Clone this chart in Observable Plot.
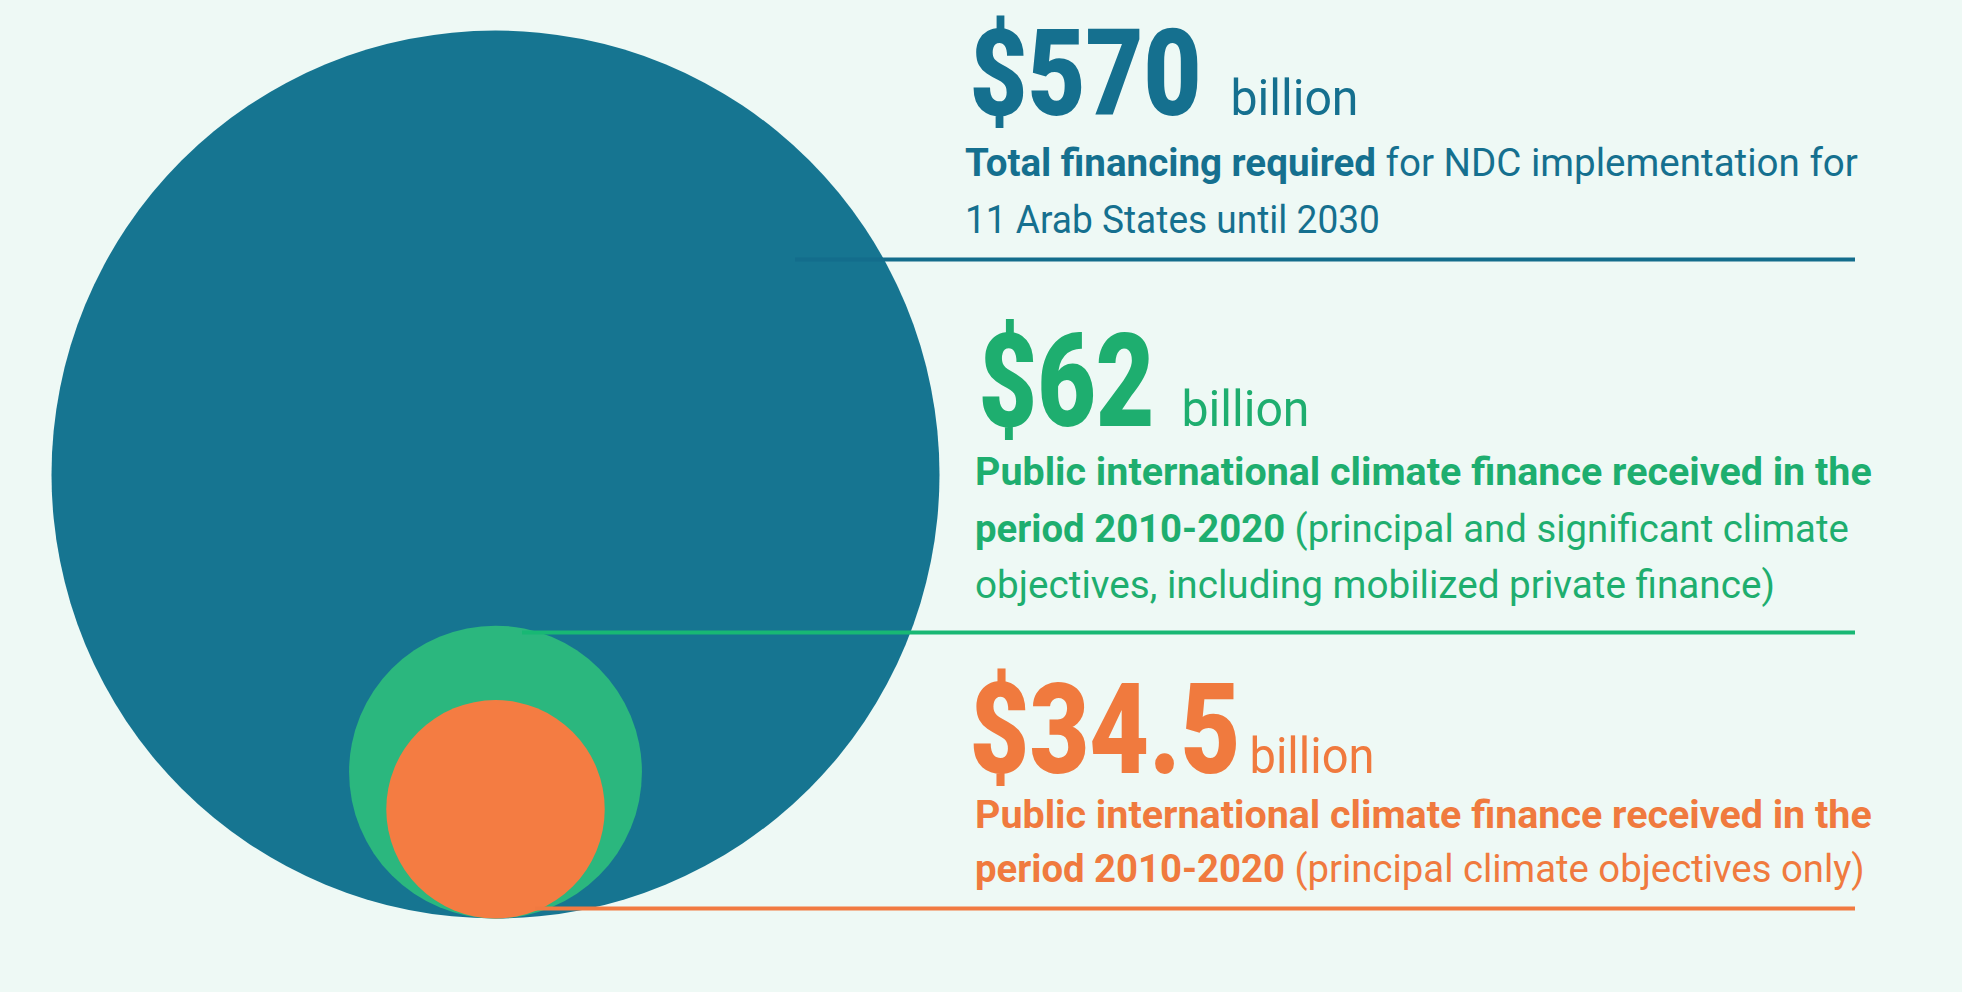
<!DOCTYPE html>
<html>
<head>
<meta charset="utf-8">
<script src="https://cdn.jsdelivr.net/npm/d3@7"></script>
<script src="https://cdn.jsdelivr.net/npm/@observablehq/plot@0.6"></script>
<style>
  html, body { margin: 0; padding: 0; background: #eef9f5; }
  #chart { position: relative; width: 1962px; height: 992px; }
</style>
</head>
<body>
<div id="chart"></div>
<script>
// ---- data ----
const categories = ["Total financing required", "Received (principal and significant)", "Received (principal only)"];
const values = [570, 62, 34.5];
const valueLabels = ["$570", "$62", "$34.5"];
const unitLabels = ["billion", "billion", "billion"];
const descriptions = [
  [
    [{bold: true, text: "Total financing required"}, {bold: false, text: " for NDC implementation for"}],
    [{bold: false, text: "11 Arab States until 2030"}]
  ],
  [
    [{bold: true, text: "Public international climate finance received in the"}],
    [{bold: true, text: "period 2010-2020"}, {bold: false, text: " (principal and significant climate"}],
    [{bold: false, text: "objectives, including mobilized private finance)"}]
  ],
  [
    [{bold: true, text: "Public international climate finance received in the"}],
    [{bold: true, text: "period 2010-2020"}, {bold: false, text: " (principal climate objectives only)"}]
  ]
];

// ---- styles / layout ----
const fills = ["#167591", "#2bb77e", "#f47c42"];
const ruleColors = ["#136d8c", "#18b874", "#f17a41"];
const textColors = ["#15708f", "#1eae6f", "#f07a3e"];
const L = {
  anchorX: 495, baseY: 918, rMax: 444,
  ruleY: [259, 632, 908], ruleX1: [795, 522, 535], ruleX2: 1855,
  valueX: [969, 978, 969], valueBase: [114, 425, 772], valueW: [232, 176, 271], valueSize: [121, 130, 127],
  unitX: [1230, 1181, 1249], unitW: [128, 128, 125], unitSize: 50,
  descX: [965, 975, 975],
  descBase: [[176, 233], [485, 542, 598], [828, 882]],
  descW: [[893, 415], [897, 874, 800], [897, 890]],
  descSize: 39
};

const idx = d3.range(values.length);
const rOpts = {type: "sqrt", domain: [0, d3.max(values)], range: [0, L.rMax]};
const rScale = Plot.scale({r: rOpts});

const svg = Plot.plot({
  width: 1962,
  height: 992,
  margin: 0,
  x: {type: "identity", axis: null},
  y: {type: "identity", axis: null},
  r: rOpts,
  style: {background: "#eef9f5", overflow: "visible"},
  marks: [
    Plot.dot(idx, {
      x: () => L.anchorX,
      y: i => L.baseY - rScale.apply(values[i]),
      r: i => values[i],
      fill: i => fills[i],
      stroke: null
    }),
    Plot.ruleY(idx, {
      y: i => L.ruleY[i],
      x1: i => L.ruleX1[i],
      x2: () => L.ruleX2,
      stroke: i => ruleColors[i],
      strokeWidth: 4
    }),
    Plot.text(idx, {
      x: i => L.valueX[i],
      y: i => L.valueBase[i],
      text: i => valueLabels[i],
      fill: i => textColors[i],
      fontSize: i => L.valueSize[i],
      fontWeight: 900,
      fontFamily: "Roboto, 'Noto Sans', sans-serif",
      textAnchor: "start",
      lineAnchor: "bottom"
    }),
    Plot.text(idx, {
      x: i => L.unitX[i],
      y: i => L.valueBase[i],
      text: i => unitLabels[i],
      fill: i => textColors[i],
      fontSize: L.unitSize,
      fontWeight: 400,
      fontFamily: "Roboto, 'Noto Sans', sans-serif",
      textAnchor: "start",
      lineAnchor: "bottom"
    })
  ]
});

document.getElementById("chart").appendChild(svg);

// horizontally condense a text element to a target width, keeping its left edge
function fitWidth(t, target) {
  const w = t.getComputedTextLength();
  if (!w) return;
  const sx = target / w;
  const tr = t.getAttribute("transform") || "";
  t.setAttribute("transform", `${tr} scale(${sx},1)`);
}

const textGroups = svg.querySelectorAll('g[aria-label="text"]');
if (textGroups.length >= 2) {
  textGroups[0].querySelectorAll("text").forEach((t, k) => fitWidth(t, L.valueW[k]));
  textGroups[1].querySelectorAll("text").forEach((t, k) => fitWidth(t, L.unitW[k]));
}

// description lines
const g = d3.select(svg).append("g")
  .attr("font-family", "Roboto, 'Noto Sans', sans-serif")
  .attr("text-anchor", "start");
descriptions.forEach((lines, i) => {
  lines.forEach((segs, j) => {
    const t = g.append("text")
      .attr("transform", `translate(${L.descX[i]},${L.descBase[i][j]})`)
      .attr("font-size", L.descSize)
      .attr("fill", textColors[i])
      .style("white-space", "pre");
    segs.forEach(s => t.append("tspan")
      .attr("font-weight", s.bold ? 700 : 400)
      .text(s.text));
    fitWidth(t.node(), L.descW[i][j]);
  });
});
</script>
</body>
</html>
